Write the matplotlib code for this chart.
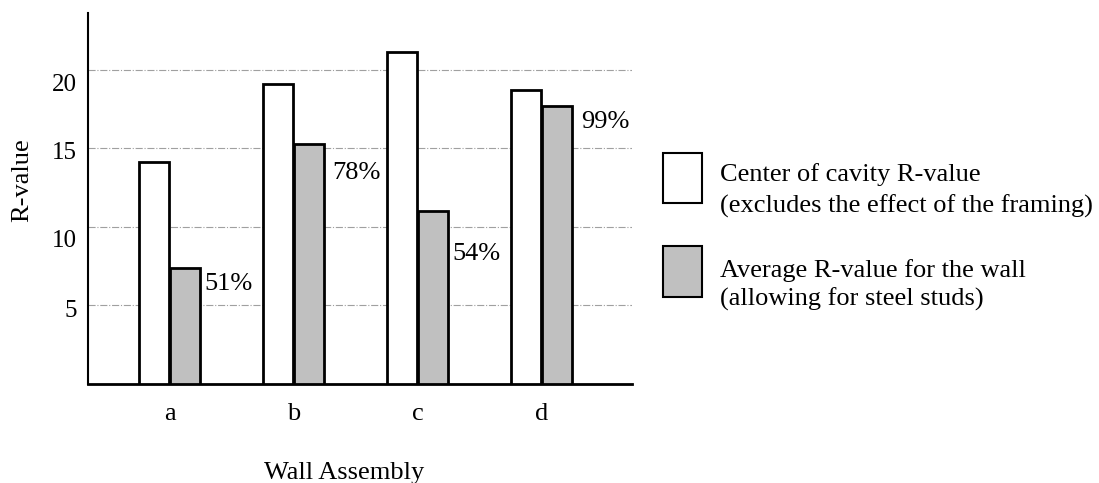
import numpy as np
import matplotlib.pyplot as plt
import matplotlib.transforms as mtransforms
from matplotlib.patches import Rectangle

plt.rcParams['font.family'] = ['Liberation Serif', 'DejaVu Serif']

assemblies = ['a', 'b', 'c', 'd']
center_cavity = [14.1, 19.1, 21.1, 18.7]
average_wall = [7.4, 15.3, 11.0, 17.7]
pct_labels = ['51%', '78%', '54%', '99%']
# label offsets (points) from the top right corner of each gray bar
pct_dx = [3, 6, 3, 7]
pct_dy = [-12, -21, -31, -12]
y_ticks = [5, 10, 15, 20]
# the tick numbers in the original sit a little under their grid lines
tick_drop_px = [3, 12, 2, 13]

fig = plt.figure(figsize=(10.99, 4.83), dpi=100)
ax = fig.add_axes([0.080, 0.205, 0.495, 0.768])

x = np.arange(len(assemblies))
w = 0.24
ax.bar(x - 0.125, center_cavity, w, color='white', edgecolor='black', linewidth=2, zorder=3)
ax.bar(x + 0.125, average_wall, w, color='#c0c0c0', edgecolor='black', linewidth=2, zorder=3)

for i in range(len(x)):
    ax.annotate(pct_labels[i], (x[i] + 0.125 + w / 2, average_wall[i]),
                xytext=(pct_dx[i], pct_dy[i]), textcoords='offset points',
                ha='left', va='center', fontsize=19)

ax.set_xlim(-0.66, 3.73)
ax.set_ylim(0, 23.6)
ax.set_yticks(y_ticks)
ax.set_yticklabels([str(v) for v in y_ticks], fontsize=18)
ax.set_xticks(x)
ax.set_xticklabels(assemblies, fontsize=19)
ax.tick_params(axis='both', length=0)
ax.tick_params(axis='x', pad=14)
ax.tick_params(axis='y', pad=8)
for lab, d in zip(ax.get_yticklabels(), tick_drop_px):
    lab.set_transform(lab.get_transform() + mtransforms.Affine2D().translate(0, -d))
ax.yaxis.grid(True, color='#a0a0a0', linestyle='-.', linewidth=0.8, zorder=0)
ax.spines['top'].set_visible(False)
ax.spines['right'].set_visible(False)
ax.spines['left'].set_linewidth(1.5)
ax.spines['bottom'].set_linewidth(2)

W, H = 1099, 483
fig.text(22 / W, 1 - 180 / H, 'R-value', fontsize=19, rotation=90, ha='center', va='center')
fig.text(344 / W, 1 - 473 / H, 'Wall Assembly', fontsize=19, ha='center', va='center')

# legend drawn by hand
fig.patches.append(Rectangle((663 / W, 1 - 203 / H), 39 / W, 50 / H, transform=fig.transFigure,
                             facecolor='white', edgecolor='black', linewidth=1.5))
fig.patches.append(Rectangle((663 / W, 1 - 297 / H), 39 / W, 51 / H, transform=fig.transFigure,
                             facecolor='#c0c0c0', edgecolor='black', linewidth=1.5))
fig.text(720 / W, 1 - 175 / H, 'Center of cavity R-value', fontsize=19, va='center')
fig.text(720 / W, 1 - 206 / H, '(excludes the effect of the framing)', fontsize=19, va='center')
fig.text(720 / W, 1 - 271 / H, 'Average R-value for the wall', fontsize=19, va='center')
fig.text(720 / W, 1 - 299 / H, '(allowing for steel studs)', fontsize=19, va='center')

fig.savefig('out.png', dpi=100)
